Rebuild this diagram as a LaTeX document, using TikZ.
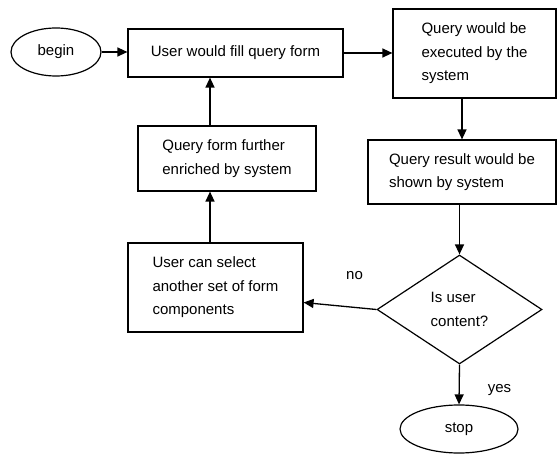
\documentclass[tikz,border=0pt]{standalone}
\usepackage{fontspec}
\setmainfont{Liberation Sans}
\usetikzlibrary{shapes.geometric, arrows.meta, positioning}

\begin{document}
\begin{tikzpicture}[
    x=1pt, y=-1pt,
    every node/.style={font=\fontsize{15}{23.5}\selectfont},
    box/.style={rectangle, draw=black, line width=1.2pt, fill=white,
                align=left, inner sep=0pt},
    terminal/.style={ellipse, draw=black, line width=1.2pt, fill=white, inner sep=0pt},
    decision/.style={diamond, aspect=1.5, draw=black, line width=1.2pt, fill=white,
                     align=left, inner sep=0pt},
    arrow/.style={-{Triangle[length=10pt, width=9pt]}, line width=1.3pt, draw=black},
    label_s/.style={inner sep=0pt},
]
\useasboundingbox (0,0) rectangle (557,454);

% Row 1: start and query form
\node[terminal, minimum width=90pt, minimum height=48pt] (begin) at (56,52) {begin};
\node[box, minimum width=215pt, minimum height=48pt] (fill) at (235.5,53) {User would fill query form};
\node[box, minimum width=163pt, minimum height=89pt] (exec) at (474.5,53.5) {Query would be\\executed by the\\system};

% Row 2: enrichment and result
\node[box, minimum width=178pt, minimum height=65pt] (enrich) at (227,158.5) {Query form further\\enriched by system};
\node[box, minimum width=188pt, minimum height=64pt] (result) at (462,172) {Query result would be\\shown by system};

% Row 3: selection and decision
\node[box, minimum width=175pt, minimum height=89pt] (select) at (215.5,287.5) {User can select\\another set of form\\components};
\node[decision, minimum width=165pt, minimum height=109pt] (content) at (459.5,309.5) {Is user\\content?};

% Row 4: end
\node[terminal, minimum width=118pt, minimum height=48pt] (stop) at (459,429) {stop};

% Arrows
\draw[arrow] (begin) -- (begin -| fill.west);
\draw[arrow] (fill.east) -- (fill.east -| exec.west);
\draw[arrow] (result.north |- exec.south) -- (result.north);
\draw[arrow] (content.north |- result.south) -- (content.north);
\draw[arrow] (content.west) -- ([yshift=-15pt]select.east)
    node[pos=0.3, above=27pt, label_s] {no};
\draw[arrow] ([xshift=-5.5pt]select.north) -- ([xshift=-5.5pt]select.north |- enrich.south);
\draw[arrow] ([xshift=-17pt]enrich.north) -- ([xshift=-17pt]enrich.north |- fill.south);
\draw[arrow] (content.south) -- (stop.north)
    node[midway, right=28pt, yshift=-6pt, label_s] {yes};

\end{tikzpicture}
\end{document}
